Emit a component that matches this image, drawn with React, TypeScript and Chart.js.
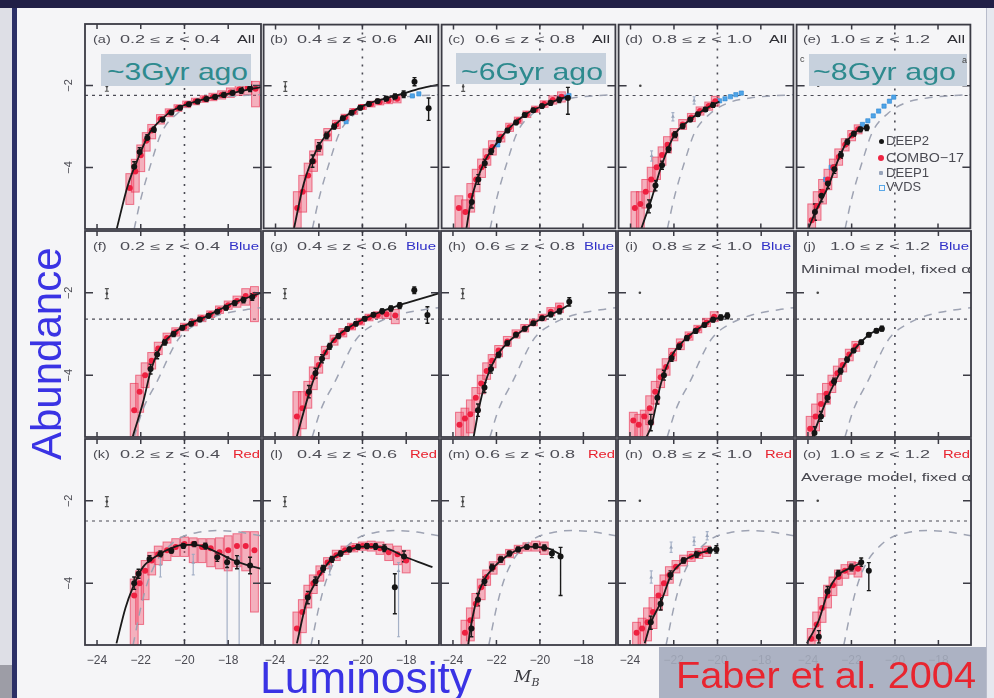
import React, { useEffect, useLayoutEffect, useRef } from "react";
import { Chart, registerables } from "chart.js";
Chart.register(...registerables);

const FONT = '"Liberation Sans", Arial, Helvetica, sans-serif';

// ---------- axes / labels ----------
const X_MIN = -24.55;
const X_MAX = -16.5;
const Y_MIN = -5.5;
const Y_MAX = -0.5;
const xTickValues = [-24, -22, -20, -18];
const yTickValues = [-4, -2];
const panelLetters = ["a", "b", "c", "d", "e", "f", "g", "h", "i", "j", "k", "l", "m", "n", "o"];
const zLow = ["0.2", "0.4", "0.6", "0.8", "1.0"];
const zHigh = ["0.4", "0.6", "0.8", "1.0", "1.2"];
const sampleNames = ["All", "Blue", "Red"];
const mStarLine = -20;
const phiStarLevels = [-2.24, -2.64, -2.49];

// ---------- local (reference) luminosity functions, dashed ----------
const localAll = [[-22.3, -5.5], [-22.0, -4.77], [-21.5, -3.85], [-21.05, -3.15], [-20.3, -2.67], [-19.5, -2.42], [-18.5, -2.3], [-17.5, -2.25], [-16.5, -2.22]];
const localBlue = [[-22.3, -5.5], [-21.9, -4.83], [-21.25, -4.15], [-20.3, -3.14], [-19.3, -2.72], [-18.3, -2.52], [-17.2, -2.41], [-16.5, -2.36]];
const localRed = [[-22.35, -5.5], [-22.0, -4.6], [-21.7, -4.0], [-21.3, -3.5], [-20.7, -3.1], [-20.2, -2.9], [-19.5, -2.78], [-18.5, -2.72], [-17.5, -2.76], [-16.5, -2.85]];
const keyBar = [[-23.55, -2.02, -2.14, -1.9]];
const keyDot = [[-23.55, -2.0, -2.0, -2.0]];
const none: number[][] = [];

// ---------- panel (a) All 0.2-0.4 ----------
const fitA = [[-23.1, -5.5], [-22.6, -4.45], [-22.2, -3.88], [-21.6, -3.16], [-21.0, -2.8], [-20.5, -2.6], [-20.0, -2.48], [-19.3, -2.36], [-18.5, -2.26], [-17.8, -2.18], [-17.2, -2.11], [-16.5, -2.04]];
const deep2A = [[-22.3, -3.98, -4.12, -3.86], [-22.05, -3.62, -3.72, -3.52], [-21.7, -3.28, -3.36, -3.2], [-21.4, -3.08, -3.14, -3.02], [-21.0, -2.83, -2.88, -2.78], [-20.6, -2.66, -2.71, -2.61], [-20.2, -2.54, -2.59, -2.49], [-19.8, -2.46, -2.51, -2.41], [-19.4, -2.39, -2.44, -2.34], [-19.0, -2.33, -2.38, -2.28], [-18.6, -2.28, -2.33, -2.23], [-18.2, -2.23, -2.29, -2.17], [-17.8, -2.18, -2.24, -2.12], [-17.4, -2.12, -2.19, -2.05], [-17.0, -2.07, -2.15, -1.99]];
const comboA = [[-22.5, -4.5, -4.9, -4.15], [-22.25, -4.1, -4.6, -3.8], [-22.0, -3.7, -4.1, -3.45], [-21.75, -3.35, -3.6, -3.15], [-21.5, -3.1, -3.3, -2.95], [-21.1, -2.82, -2.94, -2.71], [-20.7, -2.66, -2.76, -2.57], [-20.3, -2.55, -2.63, -2.47], [-19.9, -2.46, -2.54, -2.38], [-19.5, -2.39, -2.47, -2.31], [-19.1, -2.33, -2.41, -2.25], [-18.7, -2.28, -2.37, -2.19], [-18.3, -2.23, -2.33, -2.13], [-17.9, -2.17, -2.29, -2.06], [-17.5, -2.1, -2.24, -1.98], [-17.1, -2.05, -2.22, -1.9], [-16.75, -2.08, -2.52, -1.9]];

// ---------- panel (b) All 0.4-0.6 ----------
const fitB = [[-23.15, -5.5], [-22.7, -4.4], [-22.1, -3.56], [-21.33, -3.0], [-20.6, -2.68], [-19.8, -2.45], [-19.0, -2.32], [-18.3, -2.22], [-17.55, -2.1], [-16.5, -1.97]];
const deep2B = [[-22.3, -3.85, -4.0, -3.7], [-22.0, -3.5, -3.6, -3.4], [-21.65, -3.22, -3.3, -3.14], [-21.3, -3.0, -3.06, -2.94], [-20.9, -2.8, -2.85, -2.75], [-20.5, -2.66, -2.71, -2.61], [-20.1, -2.54, -2.59, -2.49], [-19.7, -2.45, -2.5, -2.4], [-19.3, -2.38, -2.43, -2.33], [-18.9, -2.32, -2.38, -2.26], [-18.5, -2.27, -2.34, -2.2], [-18.1, -2.21, -2.29, -2.13], [-17.6, -1.9, -2.0, -1.8], [-16.95, -2.55, -2.85, -2.3]];
const comboB = [[-23.0, -5.0, -5.5, -4.6], [-22.75, -4.6, -5.1, -4.2], [-22.5, -4.2, -4.6, -3.9], [-22.25, -3.85, -4.1, -3.6], [-22.0, -3.52, -3.7, -3.32], [-21.6, -3.2, -3.35, -3.05], [-21.2, -2.95, -3.05, -2.85], [-20.8, -2.78, -2.86, -2.7], [-20.4, -2.63, -2.7, -2.56], [-20.0, -2.52, -2.58, -2.46], [-19.6, -2.45, -2.52, -2.38], [-19.2, -2.4, -2.47, -2.33], [-18.8, -2.36, -2.44, -2.28], [-18.4, -2.32, -2.42, -2.22]];
const vvdsB = [[-20.75, -2.88], [-17.7, -2.25], [-17.4, -2.2]];

// ---------- panel (c) All 0.6-0.8 ----------
const fitC = [[-23.4, -5.5], [-23.18, -4.81], [-22.58, -3.88], [-22.05, -3.45], [-21.5, -3.08], [-20.6, -2.68], [-19.7, -2.46], [-19.1, -2.33], [-18.6, -2.25]];
const deep2C = [[-23.15, -4.85, -5.0, -4.7], [-22.85, -4.3, -4.42, -4.18], [-22.55, -3.9, -4.0, -3.8], [-22.25, -3.6, -3.68, -3.52], [-21.9, -3.33, -3.39, -3.27], [-21.5, -3.1, -3.15, -3.05], [-21.1, -2.9, -2.95, -2.85], [-20.7, -2.72, -2.77, -2.67], [-20.3, -2.6, -2.65, -2.55], [-19.9, -2.5, -2.55, -2.45], [-19.5, -2.42, -2.48, -2.36], [-19.1, -2.34, -2.41, -2.27], [-18.7, -2.3, -2.7, -2.04]];
const comboC = [[-23.75, -5.0, -5.5, -4.7], [-23.45, -5.1, -5.5, -4.8], [-23.2, -4.7, -5.1, -4.4], [-22.95, -4.3, -4.6, -4.05], [-22.7, -4.0, -4.25, -3.8], [-22.45, -3.75, -3.95, -3.55], [-22.2, -3.5, -3.7, -3.35], [-21.8, -3.25, -3.38, -3.12], [-21.4, -3.02, -3.12, -2.92], [-21.0, -2.85, -2.93, -2.77], [-20.6, -2.7, -2.78, -2.62], [-20.2, -2.58, -2.65, -2.5], [-19.8, -2.45, -2.53, -2.37], [-19.4, -2.35, -2.45, -2.25], [-19.0, -2.27, -2.4, -2.15]];
const vvdsC = [[-21.95, -3.45], [-19.05, -2.3], [-18.85, -2.28], [-18.65, -2.24]];

// ---------- panel (d) All 0.8-1.0 ----------
const fitD = [[-23.5, -5.5], [-23.03, -4.77], [-22.58, -3.97], [-21.97, -3.2], [-21.37, -2.88], [-20.76, -2.64], [-20.16, -2.45], [-19.9, -2.39]];
const deep2D = [[-23.15, -4.95, -5.12, -4.8], [-22.85, -4.45, -4.58, -4.33], [-22.55, -3.95, -4.05, -3.85], [-22.25, -3.55, -3.63, -3.47], [-21.95, -3.2, -3.27, -3.13], [-21.6, -2.99, -3.05, -2.93], [-21.25, -2.83, -2.88, -2.78], [-20.9, -2.7, -2.75, -2.65], [-20.55, -2.58, -2.63, -2.53], [-20.2, -2.47, -2.53, -2.41]];
const comboD = [[-23.8, -5.0, -5.5, -4.6], [-23.55, -4.9, -5.5, -4.6], [-23.3, -4.6, -5.0, -4.3], [-23.05, -4.3, -4.6, -4.0], [-22.8, -4.0, -4.3, -3.75], [-22.55, -3.7, -3.95, -3.5], [-22.3, -3.45, -3.65, -3.25], [-22.0, -3.2, -3.35, -3.05], [-21.6, -2.95, -3.07, -2.83], [-21.2, -2.78, -2.88, -2.68], [-20.8, -2.62, -2.72, -2.52], [-20.4, -2.5, -2.6, -2.4], [-20.1, -2.38, -2.5, -2.26]];
const vvdsD = [[-19.9, -2.37], [-19.65, -2.32], [-19.4, -2.27], [-19.15, -2.22], [-18.9, -2.18]];
const deep1D = [[-23.03, -3.72, -3.85, -3.6], [-22.05, -2.76, -2.86, -2.66], [-21.07, -2.36, -2.45, -2.27]];

// ---------- panel (e) All 1.0-1.2 ----------
const fitE = [[-24.0, -5.5], [-23.67, -5.09], [-23.07, -4.45], [-22.61, -3.8], [-22.16, -3.32], [-21.71, -3.1], [-21.25, -3.02]];
const deep2E = [[-23.7, -5.1, -5.3, -4.9], [-23.4, -4.7, -4.85, -4.55], [-23.1, -4.4, -4.52, -4.28], [-22.8, -4.05, -4.15, -3.95], [-22.5, -3.7, -3.78, -3.62], [-22.2, -3.38, -3.45, -3.31], [-21.9, -3.18, -3.24, -3.12], [-21.6, -3.07, -3.13, -3.01], [-21.3, -3.03, -3.1, -2.96]];
const comboE = [[-23.85, -5.3, -5.5, -4.9], [-23.6, -4.95, -5.3, -4.6], [-23.35, -4.6, -4.9, -4.3], [-23.1, -4.3, -4.55, -4.05], [-22.85, -4.0, -4.25, -3.8], [-22.6, -3.75, -3.95, -3.55], [-22.3, -3.45, -3.6, -3.3], [-22.0, -3.22, -3.35, -3.1], [-21.7, -3.07, -3.18, -2.96]];
const vvdsE = [[-23.2, -4.3], [-22.95, -4.0], [-21.5, -2.95], [-21.25, -2.86], [-21.0, -2.74], [-20.75, -2.62], [-20.5, -2.5], [-20.25, -2.38], [-20.05, -2.28]];

// ---------- panel (f) Blue 0.2-0.4 ----------
const fitF = [[-22.36, -5.48], [-21.9, -4.67], [-21.53, -3.87], [-21.2, -3.42], [-20.85, -3.15], [-20.09, -2.83], [-19.03, -2.58], [-17.82, -2.26], [-16.5, -2.0]];
const deep2F = [[-21.55, -3.85, -3.97, -3.73], [-21.25, -3.5, -3.6, -3.4], [-20.9, -3.2, -3.27, -3.13], [-20.5, -3.0, -3.06, -2.94], [-20.1, -2.85, -2.9, -2.8], [-19.7, -2.75, -2.8, -2.7], [-19.3, -2.65, -2.7, -2.6], [-18.9, -2.56, -2.61, -2.51], [-18.5, -2.46, -2.51, -2.41], [-18.1, -2.36, -2.42, -2.3], [-17.7, -2.25, -2.31, -2.19], [-17.3, -2.17, -2.24, -2.1], [-16.9, -2.1, -2.18, -2.02]];
const comboF = [[-22.3, -4.85, -5.5, -4.2], [-22.05, -4.4, -4.9, -4.0], [-21.8, -4.0, -4.3, -3.7], [-21.5, -3.65, -3.85, -3.45], [-21.2, -3.35, -3.5, -3.2], [-20.8, -3.1, -3.22, -2.98], [-20.4, -2.95, -3.05, -2.85], [-20.0, -2.83, -2.92, -2.74], [-19.6, -2.72, -2.8, -2.64], [-19.2, -2.62, -2.7, -2.54], [-18.8, -2.52, -2.6, -2.44], [-18.4, -2.42, -2.5, -2.32], [-18.0, -2.3, -2.4, -2.2], [-17.6, -2.2, -2.35, -2.08], [-17.2, -2.08, -2.3, -1.9], [-16.8, -2.05, -2.7, -1.85]];

// ---------- panel (g) Blue 0.4-0.6 ----------
const fitG = [[-23.0, -5.48], [-22.39, -4.35], [-21.94, -3.71], [-21.33, -3.15], [-20.58, -2.83], [-19.8, -2.6], [-19.07, -2.44], [-18.3, -2.3], [-17.55, -2.18], [-16.5, -2.01]];
const deep2G = [[-22.45, -4.4, -4.55, -4.25], [-22.15, -3.95, -4.07, -3.83], [-21.85, -3.6, -3.7, -3.5], [-21.5, -3.3, -3.37, -3.23], [-21.1, -3.05, -3.11, -2.99], [-20.7, -2.88, -2.93, -2.83], [-20.3, -2.75, -2.8, -2.7], [-19.9, -2.63, -2.68, -2.58], [-19.5, -2.53, -2.58, -2.48], [-19.1, -2.45, -2.51, -2.39], [-18.7, -2.38, -2.44, -2.32], [-18.3, -2.31, -2.38, -2.24], [-17.63, -1.94, -2.02, -1.86], [-17.03, -2.54, -2.74, -2.34]];
const comboG = [[-23.0, -5.0, -5.5, -4.4], [-22.75, -4.8, -5.3, -4.4], [-22.5, -4.45, -4.8, -4.15], [-22.25, -4.05, -4.35, -3.8], [-22.0, -3.75, -3.95, -3.55], [-21.7, -3.45, -3.6, -3.3], [-21.3, -3.15, -3.27, -3.03], [-20.9, -2.97, -3.07, -2.87], [-20.5, -2.82, -2.9, -2.74], [-20.1, -2.7, -2.78, -2.62], [-19.7, -2.6, -2.68, -2.52], [-19.3, -2.54, -2.62, -2.46], [-18.9, -2.52, -2.62, -2.42], [-18.5, -2.55, -2.75, -2.4]];

// ---------- panel (h) Blue 0.6-0.8 ----------
const fitH = [[-23.05, -5.5], [-22.75, -4.67], [-22.42, -4.03], [-22.0, -3.55], [-21.5, -3.22], [-20.58, -2.83], [-19.82, -2.6], [-19.07, -2.42], [-18.6, -2.27]];
const deep2H = [[-22.85, -4.85, -5.0, -4.7], [-22.55, -4.3, -4.42, -4.18], [-22.25, -3.85, -3.95, -3.75], [-21.9, -3.5, -3.57, -3.43], [-21.5, -3.22, -3.28, -3.16], [-21.1, -3.02, -3.07, -2.97], [-20.7, -2.87, -2.92, -2.82], [-20.3, -2.74, -2.79, -2.69], [-19.9, -2.62, -2.67, -2.57], [-19.5, -2.52, -2.58, -2.46], [-19.1, -2.44, -2.51, -2.37], [-18.65, -2.22, -2.32, -2.12]];
const comboH = [[-23.7, -5.2, -5.5, -4.9], [-23.45, -5.05, -5.5, -4.8], [-23.2, -4.95, -5.4, -4.6], [-22.95, -4.55, -4.9, -4.3], [-22.7, -4.2, -4.45, -4.0], [-22.45, -3.9, -4.1, -3.7], [-22.2, -3.65, -3.82, -3.5], [-21.9, -3.4, -3.55, -3.28], [-21.5, -3.18, -3.3, -3.06], [-21.1, -3.0, -3.1, -2.9], [-20.7, -2.86, -2.95, -2.77], [-20.3, -2.72, -2.8, -2.64], [-19.9, -2.6, -2.68, -2.52], [-19.5, -2.46, -2.56, -2.36], [-19.1, -2.36, -2.48, -2.25]];

// ---------- panel (i) Blue 0.8-1.0 ----------
const fitI = [[-23.25, -5.5], [-23.03, -5.24], [-22.58, -4.19], [-22.12, -3.55], [-21.52, -3.15], [-20.76, -2.83], [-20.16, -2.64], [-19.56, -2.56]];
const deep2I = [[-23.05, -5.15, -5.35, -4.95], [-22.75, -4.55, -4.7, -4.4], [-22.45, -4.0, -4.12, -3.88], [-22.1, -3.58, -3.66, -3.5], [-21.75, -3.3, -3.37, -3.23], [-21.4, -3.1, -3.16, -3.04], [-21.0, -2.93, -2.98, -2.88], [-20.6, -2.78, -2.83, -2.73], [-20.2, -2.65, -2.71, -2.59], [-19.85, -2.6, -2.66, -2.54], [-19.55, -2.56, -2.63, -2.49]];
const comboI = [[-23.85, -5.1, -5.5, -4.9], [-23.6, -5.2, -5.5, -4.95], [-23.35, -5.0, -5.5, -4.85], [-23.1, -4.8, -5.2, -4.5], [-22.85, -4.4, -4.7, -4.15], [-22.6, -4.05, -4.3, -3.85], [-22.35, -3.8, -4.0, -3.6], [-22.05, -3.5, -3.65, -3.35], [-21.7, -3.25, -3.38, -3.12], [-21.3, -3.05, -3.15, -2.95], [-20.9, -2.88, -2.97, -2.79], [-20.5, -2.72, -2.82, -2.62], [-20.15, -2.58, -2.7, -2.46]];

// ---------- panel (j) Blue 1.0-1.2 ----------
const fitJ = [[-23.8, -5.5], [-23.07, -4.51], [-22.46, -3.87], [-22.01, -3.47], [-21.55, -3.19], [-21.1, -2.98], [-20.62, -2.88]];
const deep2J = [[-23.7, -5.4, -5.55, -5.25], [-23.4, -5.0, -5.12, -4.88], [-23.1, -4.55, -4.65, -4.45], [-22.8, -4.15, -4.23, -4.07], [-22.5, -3.9, -3.97, -3.83], [-22.2, -3.62, -3.68, -3.56], [-21.9, -3.4, -3.45, -3.35], [-21.55, -3.2, -3.25, -3.15], [-21.2, -3.02, -3.07, -2.97], [-20.85, -2.92, -2.97, -2.87], [-20.6, -2.87, -2.93, -2.81]];
const comboJ = [[-23.9, -5.3, -5.5, -5.0], [-23.65, -5.0, -5.35, -4.7], [-23.4, -4.7, -5.0, -4.45], [-23.15, -4.45, -4.7, -4.2], [-22.9, -4.2, -4.42, -4.0], [-22.65, -3.95, -4.15, -3.78], [-22.4, -3.75, -3.92, -3.6], [-22.1, -3.5, -3.65, -3.37], [-21.8, -3.3, -3.42, -3.18]];

// ---------- panel (k) Red 0.2-0.4 ----------
const fitK = [[-23.11, -5.46], [-22.7, -4.6], [-22.36, -4.1], [-21.9, -3.61], [-21.15, -3.3], [-20.6, -3.15], [-20.09, -3.07], [-19.5, -3.07], [-19.03, -3.13], [-18.4, -3.28], [-17.82, -3.43], [-17.2, -3.55], [-16.5, -3.65]];
const deep2K = [[-22.3, -4.0, -4.15, -3.85], [-22.1, -3.77, -3.88, -3.66], [-21.6, -3.41, -3.49, -3.33], [-21.1, -3.29, -3.36, -3.22], [-20.6, -3.21, -3.27, -3.15], [-20.05, -3.09, -3.15, -3.03], [-19.55, -3.05, -3.11, -2.99], [-19.05, -3.1, -3.17, -3.03], [-18.5, -3.37, -3.47, -3.27], [-18.05, -3.49, -3.62, -3.36], [-17.6, -3.49, -3.65, -3.33], [-17.0, -3.57, -3.77, -3.37]];
const comboK = [[-22.3, -4.3, -5.5, -3.9], [-22.05, -4.0, -5.0, -3.7], [-21.8, -3.7, -4.4, -3.45], [-21.5, -3.45, -3.8, -3.25], [-21.2, -3.3, -3.55, -3.1], [-20.8, -3.2, -3.45, -3.0], [-20.4, -3.12, -3.35, -2.92], [-20.0, -3.05, -3.35, -2.88], [-19.6, -3.05, -3.5, -2.9], [-19.2, -3.12, -3.5, -2.92], [-18.8, -3.15, -3.6, -2.92], [-18.4, -3.25, -3.65, -2.9], [-18.0, -3.2, -3.7, -2.85], [-17.6, -3.1, -3.6, -2.8], [-17.2, -3.1, -3.7, -2.75], [-16.8, -3.2, -4.7, -2.75]];
const deep1K = [[-21.1, -3.55, -3.85, -3.35], [-19.6, -3.5, -3.8, -3.3], [-18.05, -3.55, -5.5, -3.4], [-17.5, -3.5, -5.5, -3.35]];

// ---------- panel (l) Red 0.4-0.6 ----------
const fitL = [[-23.0, -5.46], [-22.54, -4.42], [-22.09, -3.93], [-21.48, -3.45], [-20.73, -3.21], [-19.97, -3.11], [-19.07, -3.13], [-18.01, -3.37], [-16.8, -3.61]];
const deep2L = [[-22.5, -4.35, -4.5, -4.2], [-22.15, -3.95, -4.05, -3.85], [-21.8, -3.65, -3.73, -3.57], [-21.4, -3.42, -3.49, -3.35], [-21.0, -3.28, -3.34, -3.22], [-20.6, -3.18, -3.24, -3.12], [-20.2, -3.12, -3.18, -3.06], [-19.8, -3.1, -3.16, -3.04], [-19.4, -3.11, -3.18, -3.04], [-19.0, -3.15, -3.23, -3.07], [-18.52, -4.1, -4.74, -3.77], [-18.1, -3.35, -3.48, -3.22]];
const comboL = [[-23.0, -5.1, -5.5, -4.7], [-22.75, -4.7, -5.2, -4.4], [-22.5, -4.3, -4.6, -4.05], [-22.25, -4.0, -4.25, -3.8], [-21.95, -3.75, -3.95, -3.58], [-21.6, -3.5, -3.65, -3.38], [-21.2, -3.32, -3.45, -3.2], [-20.8, -3.2, -3.3, -3.1], [-20.4, -3.14, -3.24, -3.04], [-20.0, -3.1, -3.2, -3.0], [-19.6, -3.1, -3.22, -2.98], [-19.2, -3.15, -3.3, -3.0], [-18.8, -3.25, -3.45, -3.05], [-18.4, -3.3, -3.55, -3.1], [-18.0, -3.45, -3.75, -3.2]];
const deep1L = [[-18.35, -3.7, -5.3, -3.5], [-21.5, -3.6, -3.8, -3.4]];

// ---------- panel (m) Red 0.6-0.8 ----------
const fitM = [[-23.3, -5.5], [-23.18, -5.06], [-22.88, -4.34], [-22.58, -3.93], [-22.1, -3.6], [-21.49, -3.33], [-20.58, -3.11], [-19.67, -3.15], [-19.07, -3.3]];
const deep2M = [[-23.15, -5.1, -5.3, -4.9], [-22.85, -4.4, -4.55, -4.25], [-22.55, -3.95, -4.05, -3.85], [-22.2, -3.62, -3.7, -3.54], [-21.8, -3.42, -3.49, -3.35], [-21.4, -3.28, -3.34, -3.22], [-21.0, -3.18, -3.24, -3.12], [-20.6, -3.12, -3.18, -3.06], [-20.2, -3.1, -3.16, -3.04], [-19.8, -3.14, -3.21, -3.07], [-19.45, -3.28, -3.38, -3.18], [-19.05, -3.35, -4.3, -3.13]];
const comboM = [[-23.45, -5.2, -5.5, -4.9], [-23.2, -4.9, -5.4, -4.6], [-22.95, -4.5, -4.85, -4.25], [-22.7, -4.1, -4.4, -3.9], [-22.45, -3.85, -4.05, -3.68], [-22.15, -3.62, -3.78, -3.48], [-21.8, -3.42, -3.55, -3.3], [-21.4, -3.28, -3.38, -3.18], [-21.0, -3.18, -3.28, -3.08], [-20.6, -3.12, -3.22, -3.02], [-20.2, -3.1, -3.22, -2.98], [-19.8, -3.15, -3.3, -3.0]];

// ---------- panel (n) Red 0.8-1.0 ----------
const fitN = [[-23.33, -5.46], [-23.03, -4.94], [-22.58, -4.45], [-22.12, -3.8], [-21.52, -3.45], [-20.92, -3.29], [-20.31, -3.2], [-20.01, -3.17]];
const deep2N = [[-23.05, -4.95, -5.12, -4.8], [-22.6, -4.5, -4.65, -4.35], [-22.15, -3.8, -3.9, -3.7], [-21.55, -3.45, -3.52, -3.38], [-20.95, -3.3, -3.37, -3.23], [-20.35, -3.2, -3.27, -3.13], [-20.05, -3.18, -3.27, -3.09]];
const comboN = [[-23.7, -5.2, -5.5, -4.95], [-23.45, -5.1, -5.5, -4.85], [-23.2, -4.95, -5.4, -4.6], [-22.95, -4.7, -5.1, -4.35], [-22.7, -4.3, -4.65, -4.05], [-22.45, -4.0, -4.3, -3.8], [-22.2, -3.8, -4.0, -3.6], [-21.9, -3.6, -3.75, -3.45], [-21.55, -3.45, -3.58, -3.32], [-21.2, -3.35, -3.47, -3.23], [-20.85, -3.28, -3.4, -3.16], [-20.5, -3.22, -3.35, -3.1]];
const deep1N = [[-23.03, -3.86, -4.0, -3.7], [-22.12, -3.13, -3.25, -3.0], [-21.07, -2.98, -3.08, -2.88], [-20.47, -2.85, -2.95, -2.75]];

// ---------- panel (o) Red 1.0-1.2 ----------
const fitO = [[-24.05, -5.46], [-23.5, -4.9], [-23.07, -4.2], [-22.6, -3.8], [-22.0, -3.62], [-21.55, -3.5]];
const deep2O = [[-23.5, -5.3, -5.45, -5.15], [-23.1, -4.2, -4.32, -4.08], [-22.6, -3.77, -3.85, -3.69], [-22.0, -3.62, -3.7, -3.54], [-21.55, -3.49, -3.59, -3.39], [-21.2, -3.7, -4.18, -3.5]];
const comboO = [[-23.85, -5.35, -5.5, -5.1], [-23.6, -5.0, -5.4, -4.7], [-23.35, -4.6, -4.95, -4.35], [-23.1, -4.3, -4.6, -4.05], [-22.85, -4.05, -4.3, -3.85], [-22.6, -3.85, -4.05, -3.68], [-22.3, -3.7, -3.88, -3.55], [-22.0, -3.62, -3.78, -3.48], [-21.7, -3.65, -3.85, -3.5]];

const localByRow = [localAll, localBlue, localRed];
const panelSeries = [
  [fitA, deep2A, comboA, none, none], [fitB, deep2B, comboB, vvdsB, none], [fitC, deep2C, comboC, vvdsC, none], [fitD, deep2D, comboD, vvdsD, deep1D], [fitE, deep2E, comboE, vvdsE, none],
  [fitF, deep2F, comboF, none, none], [fitG, deep2G, comboG, none, none], [fitH, deep2H, comboH, none, none], [fitI, deep2I, comboI, none, none], [fitJ, deep2J, comboJ, none, none],
  [fitK, deep2K, comboK, none, deep1K], [fitL, deep2L, comboL, none, deep1L], [fitM, deep2M, comboM, none, none], [fitN, deep2N, comboN, none, deep1N], [fitO, deep2O, comboO, none, none],
];

// ---------- layout ----------
const colLefts = [85, 262, 440, 617, 795];
const colRight = 972;
const rowTops = [23, 230, 438];
const rowBottom = 645;
const PAD = 3;

const toPts = (arr: number[][]) => arr.map((p) => ({ x: p[0], y: p[1], lo: p[2] ?? p[1], hi: p[3] ?? p[1] }));

function Panel({ row, col }: { row: number; col: number }) {
  const ref = useRef<HTMLCanvasElement>(null);
  const left = colLefts[col];
  const top = rowTops[row];
  const w = (col < 4 ? colLefts[col + 1] : colRight) - left;
  const h = (row < 2 ? rowTops[row + 1] : rowBottom) - top;
  const yw = col === 0 ? 30 : 0;
  const xh = row === 2 ? 24 : 0;
  const cw = w + 2 * PAD + yw;
  const ch = h + 2 * PAD + xh;

  useEffect(() => {
    const [fit, deep2, combo, vvds, deep1] = panelSeries[row * 5 + col];
    const key = col < 3 ? keyBar : keyDot;
    const drawBars = (ctx: any, xs: any, ys: any, pts: any[], color: string, lw: number, cap: number) => {
      ctx.strokeStyle = color;
      ctx.lineWidth = lw;
      ctx.beginPath();
      for (const p of pts) {
        if (p.lo === p.hi) continue;
        const px = xs.getPixelForValue(p.x);
        const y0 = ys.getPixelForValue(p.lo);
        const y1 = ys.getPixelForValue(p.hi);
        ctx.moveTo(px, y0);
        ctx.lineTo(px, y1);
        if (cap > 0) {
          ctx.moveTo(px - cap, y0);
          ctx.lineTo(px + cap, y0);
          ctx.moveTo(px - cap, y1);
          ctx.lineTo(px + cap, y1);
        }
      }
      ctx.stroke();
    };
    const decor = {
      id: "decor",
      beforeDatasetsDraw(chart: any) {
        const { ctx, chartArea: a } = chart;
        const xs = chart.scales.x;
        const ys = chart.scales.y;
        ctx.save();
        ctx.beginPath();
        ctx.rect(a.left, a.top, a.right - a.left, a.bottom - a.top);
        ctx.clip();
        ctx.strokeStyle = "#4b4b55";
        ctx.lineWidth = 1.2;
        ctx.setLineDash([3, 4]);
        const yl = ys.getPixelForValue(phiStarLevels[row]);
        ctx.beginPath();
        ctx.moveTo(a.left, yl);
        ctx.lineTo(a.right, yl);
        ctx.stroke();
        ctx.setLineDash([2, 6]);
        ctx.lineWidth = 1.6;
        const xv = xs.getPixelForValue(mStarLine);
        ctx.beginPath();
        ctx.moveTo(xv, a.top);
        ctx.lineTo(xv, a.bottom);
        ctx.stroke();
        ctx.setLineDash([]);
        // COMBO-17 error boxes
        const cds = chart.data.datasets[2].data;
        for (const p of cds) {
          const x0 = xs.getPixelForValue(p.x - 0.18);
          const x1 = xs.getPixelForValue(p.x + 0.18);
          const y0 = ys.getPixelForValue(p.hi);
          const y1 = ys.getPixelForValue(p.lo);
          ctx.fillStyle = "rgba(242,80,110,0.42)";
          ctx.fillRect(x0, y0, x1 - x0, y1 - y0);
          ctx.strokeStyle = "rgba(232,40,75,0.6)";
          ctx.lineWidth = 1;
          ctx.strokeRect(x0, y0, x1 - x0, y1 - y0);
        }
        drawBars(ctx, xs, ys, chart.data.datasets[4].data, "rgba(150,165,190,0.85)", 1.2, 1.5);
        drawBars(ctx, xs, ys, chart.data.datasets[5].data, "#555", 1.2, 2);
        drawBars(ctx, xs, ys, chart.data.datasets[0].data, "#1a1a1a", 1.4, 2);
        ctx.restore();
      },
      afterDraw(chart: any) {
        const { ctx, chartArea: a } = chart;
        const xs = chart.scales.x;
        const ys = chart.scales.y;
        ctx.save();
        ctx.strokeStyle = "#3b3b44";
        ctx.lineWidth = 1.8;
        ctx.strokeRect(a.left, a.top, a.right - a.left, a.bottom - a.top);
        ctx.lineWidth = 1.5;
        ctx.beginPath();
        for (const v of yTickValues) {
          const py = ys.getPixelForValue(v);
          ctx.moveTo(a.left, py);
          ctx.lineTo(a.left + 8, py);
          ctx.moveTo(a.right - 8, py);
          ctx.lineTo(a.right, py);
        }
        for (const v of xTickValues) {
          const px = xs.getPixelForValue(v);
          ctx.moveTo(px, a.top);
          ctx.lineTo(px, a.top + 5);
          ctx.moveTo(px, a.bottom);
          ctx.lineTo(px, a.bottom - 5);
        }
        ctx.stroke();
        ctx.restore();
      },
    };

    const zeroPad = (s: any) => {
      s.paddingLeft = 0;
      s.paddingRight = 0;
      s.paddingTop = 0;
      s.paddingBottom = 0;
    };

    const chart = new Chart(ref.current as HTMLCanvasElement, {
      type: "scatter",
      data: {
        datasets: [
          { label: "DEEP2", data: toPts(deep2), pointRadius: 3, pointBackgroundColor: "#141414", pointBorderWidth: 0 } as any,
          { label: "fit", data: toPts(fit), showLine: true, borderColor: "#1a1a1a", borderWidth: 1.8, pointRadius: 0, cubicInterpolationMode: "monotone" } as any,
          { label: "COMBO-17", data: toPts(combo), pointRadius: 3, pointBackgroundColor: "#ee2040", pointBorderWidth: 0 } as any,
          { label: "VVDS", data: toPts(vvds), pointStyle: "rect", pointRadius: 3, pointBackgroundColor: "#4ea4e8", pointBorderColor: "#2f86d0", pointBorderWidth: 0.6 } as any,
          { label: "DEEP1", data: toPts(deep1), pointStyle: "triangle", pointRadius: 2.2, pointBackgroundColor: "#98a4ba", pointBorderWidth: 0 } as any,
          { label: "key", data: toPts(key), pointRadius: 1.3, pointBackgroundColor: "#444", pointBorderWidth: 0 } as any,
          { label: "local", data: toPts(localByRow[row]), showLine: true, borderColor: "#9ea3b3", borderWidth: 1.5, borderDash: [8, 7], pointRadius: 0, cubicInterpolationMode: "monotone" } as any,
        ],
      },
      options: {
        responsive: false,
        animation: false,
        devicePixelRatio: 1,
        events: [],
        layout: { padding: { left: PAD, right: PAD, top: PAD, bottom: PAD } },
        plugins: { legend: { display: false }, tooltip: { enabled: false } },
        scales: {
          x: {
            type: "linear",
            min: X_MIN,
            max: X_MAX,
            display: row === 2,
            grid: { display: false, drawTicks: false },
            border: { display: false },
            afterBuildTicks: (s: any) => {
              s.ticks = xTickValues.map((v) => ({ value: v }));
            },
            afterFit: (s: any) => {
              s.height = xh;
              zeroPad(s);
            },
            ticks: {
              autoSkip: false,
              maxRotation: 0,
              minRotation: 0,
              padding: 8,
              color: "#4a4a52",
              font: { size: 12, family: FONT },
              callback: (v: any) => "\u2212" + Math.abs(Number(v)),
            },
          },
          y: {
            type: "linear",
            min: Y_MIN,
            max: Y_MAX,
            display: col === 0,
            grid: { display: false, drawTicks: false },
            border: { display: false },
            afterBuildTicks: (s: any) => {
              s.ticks = yTickValues.map((v) => ({ value: v }));
            },
            afterFit: (s: any) => {
              s.width = yw;
              zeroPad(s);
            },
            ticks: {
              autoSkip: false,
              minRotation: 90,
              maxRotation: 90,
              crossAlign: "center",
              padding: 10,
              color: "#4a4a52",
              font: { size: 11, family: FONT },
              callback: (v: any) => "\u2212" + Math.abs(Number(v)),
            },
          },
        },
      } as any,
      plugins: [decor],
    });
    return () => chart.destroy();
  }, []);

  return (
    <canvas
      ref={ref}
      width={cw}
      height={ch}
      style={{ position: "absolute", left: left - PAD - yw, top: top - PAD, width: cw, height: ch }}
    />
  );
}

function FitText({ x, base, w, size, color, text, sx, style }: any) {
  const ref = useRef<HTMLSpanElement>(null);
  useLayoutEffect(() => {
    const el = ref.current;
    if (!el) return;
    if (w) {
      el.style.transform = "none";
      const nat = el.getBoundingClientRect().width;
      if (nat > 0) el.style.transform = `scaleX(${w / nat})`;
    } else if (sx) {
      el.style.transform = `scaleX(${sx})`;
    }
  }, [w, text, sx]);
  return (
    <span
      ref={ref}
      style={{
        position: "absolute",
        left: x,
        top: base - 0.8465 * size,
        fontSize: size,
        lineHeight: `${size}px`,
        fontFamily: FONT,
        color,
        whiteSpace: "pre",
        transformOrigin: "0 0",
        ...style,
      }}
    >
      {text}
    </span>
  );
}

const tagColors = ["#2e2e34", "#3030c8", "#e8202c"];
const tagWidths = [18, 30, 27];
const tagRights = [170, 174, 175];

export default function App() {
  const panels: any[] = [];
  const labels: any[] = [];
  for (let r = 0; r < 3; r++) {
    for (let c = 0; c < 5; c++) {
      panels.push(<Panel key={`p${r}${c}`} row={r} col={c} />);
      const L = colLefts[c];
      const base = rowTops[r] + 20;
      labels.push(<FitText key={`l${r}${c}`} x={L + 8} base={base} size={10} sx={1.45} color="#4c4c54" text={`(${panelLetters[r * 5 + c]})`} />);
      labels.push(<FitText key={`m${r}${c}`} x={L + 35} base={base} size={10} w={100} color="#4c4c54" text={`${zLow[c]} \u2264 z < ${zHigh[c]}`} />);
      labels.push(<FitText key={`t${r}${c}`} x={L + tagRights[r] - tagWidths[r]} base={base} size={10} w={tagWidths[r]} color={tagColors[r]} text={sampleNames[r]} />);
    }
  }
  const gyrBoxes = [
    { x: 101, y: 54, w: 150, h: 32, tx: 107, tw: 141, t: "~3Gyr ago" },
    { x: 456, y: 53, w: 150, h: 31, tx: 461, tw: 142, t: "~6Gyr ago" },
    { x: 809, y: 54, w: 158, h: 32, tx: 813, tw: 143, t: "~8Gyr ago" },
  ];
  const legendItems = [
    { t: "DEEP2", y: 141, w: 43, m: { background: "#161616", borderRadius: 3, width: 5, height: 5 } },
    { t: "COMBO\u221217", y: 158, w: 78, m: { background: "#ee2442", borderRadius: 3, width: 6, height: 6 } },
    { t: "DEEP1", y: 173, w: 43, m: { background: "#98a4ba", borderRadius: 1, width: 4, height: 4 } },
    { t: "VVDS", y: 187, w: 35, m: { border: "1px solid #5aa8e8", width: 4, height: 4 } },
  ];
  return (
    <div style={{ position: "fixed", left: 0, top: 0, width: 994, height: 698, overflow: "hidden", background: "#f5f5f7", fontFamily: FONT }}>
      <div style={{ position: "absolute", left: 0, top: 0, width: 994, height: 8, background: "#211f46" }} />
      <div style={{ position: "absolute", left: 0, top: 8, width: 12, height: 690, background: "#dedfe6" }} />
      <div style={{ position: "absolute", left: 0, top: 665, width: 12, height: 33, background: "#9d9da6" }} />
      <div style={{ position: "absolute", left: 12, top: 8, width: 5, height: 690, background: "#2c3066" }} />
      <div style={{ position: "absolute", left: 986, top: 8, width: 8, height: 690, background: "#e6e8ef", borderLeft: "1px solid #b8bccb" }} />
      {panels}
      {labels}
      {gyrBoxes.map((b, i) => (
        <React.Fragment key={`g${i}`}>
          <div style={{ position: "absolute", left: b.x, top: b.y, width: b.w, height: b.h, background: "#c7d1dd" }} />
          <FitText x={b.tx} base={80} size={24} w={b.tw} color="#2e8a8e" text={b.t} />
        </React.Fragment>
      ))}
      <FitText x={800} base={63} size={9} color="#444" text="c" />
      <FitText x={962} base={64} size={9} color="#444" text="a" />
      {legendItems.map((it, i) => (
        <React.Fragment key={`lg${i}`}>
          <div style={{ position: "absolute", left: 881 - (it.m.width as number) / 2, top: it.y - (it.m.height as number) / 2, ...it.m } as any} />
          <FitText x={886} base={it.y + 4.5} size={12.5} w={it.w} color="#4a4a52" text={it.t} />
        </React.Fragment>
      ))}
      <FitText x={801} base={273} size={10.5} w={170} color="#45454d" text={"Minimal model, fixed \u03b1"} />
      <FitText x={801} base={481} size={10.5} w={170} color="#45454d" text={"Average model, fixed \u03b1"} />
      <span style={{ position: "absolute", left: 26.4, top: 460, fontSize: 42, lineHeight: "42px", fontFamily: FONT, color: "#3a33e4", whiteSpace: "pre", transformOrigin: "0 0", transform: "rotate(-90deg)" }}>Abundance</span>
      <FitText x={260} base={693} size={44} w={212} color="#3a33e4" text="Luminosity" />
      <span style={{ position: "absolute", left: 514, top: 668, fontSize: 17, lineHeight: "17px", fontFamily: '"DejaVu Serif", serif', fontStyle: "italic", color: "#3a3a40" }}>
        M<sub style={{ fontSize: 11 }}>B</sub>
      </span>
      <div style={{ position: "absolute", left: 659, top: 647, width: 327, height: 51, background: "rgba(164,171,188,0.9)" }} />
      <FitText x={676} base={688} size={37} w={300} color="#e8252f" text="Faber et al. 2004" />
    </div>
  );
}
